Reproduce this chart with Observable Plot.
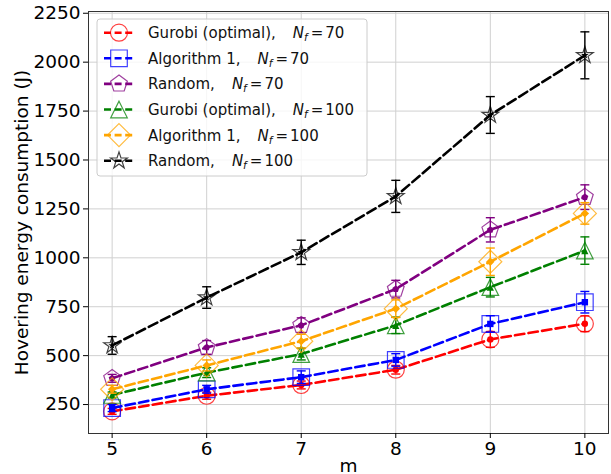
<!DOCTYPE html>
<html><head><meta charset="utf-8">
<script src="https://cdn.jsdelivr.net/npm/d3@7"></script>
<script src="https://cdn.jsdelivr.net/npm/@observablehq/plot@0.6"></script>
<style>
html,body{margin:0;padding:0;background:#fff;}
#wrap{position:relative;width:611px;height:474px;overflow:hidden;background:#fff;}
#legend{position:absolute;left:0;top:0;}
</style></head><body><div id="wrap"></div>
<script>
// ---- data ----
const m = [5, 6, 7, 8, 9, 10];
const gurobi70 = [215, 295, 350, 428, 583, 663];
const gurobi70Err = [15, 18, 20, 22, 40, 40];
const alg70 = [232, 328, 390, 478, 662, 773];
const alg70Err = [18, 20, 32, 32, 42, 55];
const random70 = [384, 542, 655, 840, 1143, 1310];
const random70Err = [20, 35, 38, 45, 62, 63];
const gurobi100 = [299, 413, 508, 655, 850, 1037];
const gurobi100Err = [15, 25, 30, 42, 50, 70];
const alg100 = [328, 450, 574, 740, 980, 1227];
const alg100Err = [20, 28, 35, 45, 70, 55];
const random100 = [552, 797, 1028, 1314, 1730, 2035];
const random100Err = [45, 55, 62, 82, 94, 120];
const yTicks = [250, 500, 750, 1000, 1250, 1500, 1750, 2000, 2250];
const seriesNames = ["Gurobi (optimal),", "Algorithm 1,", "Random,", "Gurobi (optimal),", "Algorithm 1,", "Random,"];
const seriesNf = [70, 70, 70, 100, 100, 100];
const seriesValues = [gurobi70, alg70, random70, gurobi100, alg100, random100];
const seriesErrors = [gurobi70Err, alg70Err, random70Err, gurobi100Err, alg100Err, random100Err];
const xLabel = "m";
const yLabel = "Hovering energy consumption (J)";

// ---- styles ----
const colors = ["red", "blue", "purple", "green", "orange", "black"];
const shapes = ["circle", "square", "pentagon", "triangle", "diamond", "star"];
const bigR = {circle: 8.5, square: 8.3, pentagon: 8.8, triangle: 8.3, diamond: 11.5, star: 8.8};
const smallR = {circle: 3.2, square: 3.2, pentagon: 3.6, triangle: 3.6, diamond: 4.2, star: 4};

function makeSymbol(kind) {
  return {
    draw(ctx, size) {
      const R = Math.sqrt(size / Math.PI);
      if (kind === "circle") { ctx.moveTo(R, 0); ctx.arc(0, 0, R, 0, 2 * Math.PI); }
      else if (kind === "square") { ctx.moveTo(-R, -R); ctx.lineTo(R, -R); ctx.lineTo(R, R); ctx.lineTo(-R, R); ctx.closePath(); }
      else if (kind === "pentagon") {
        for (let k = 0; k < 5; k++) { const a = -Math.PI / 2 + k * 2 * Math.PI / 5; const px = R * Math.cos(a), py = R * Math.sin(a); k ? ctx.lineTo(px, py) : ctx.moveTo(px, py); }
        ctx.closePath();
      }
      else if (kind === "triangle") { ctx.moveTo(0, -R); ctx.lineTo(R, R); ctx.lineTo(-R, R); ctx.closePath(); }
      else if (kind === "diamond") { ctx.moveTo(0, -R); ctx.lineTo(R, 0); ctx.lineTo(0, R); ctx.lineTo(-R, 0); ctx.closePath(); }
      else if (kind === "star") {
        for (let k = 0; k < 10; k++) { const a = -Math.PI / 2 + k * Math.PI / 5; const rr = k % 2 ? R * 0.381966 : R; const px = rr * Math.cos(a), py = rr * Math.sin(a); k ? ctx.lineTo(px, py) : ctx.moveTo(px, py); }
        ctx.closePath();
      }
      else if (kind === "cap") { ctx.moveTo(-R, 0); ctx.lineTo(R, 0); }
    }
  };
}
const capSymbol = makeSymbol("cap");
const DASH = "9.5,4.2";

// ---- table ----
const rows = [];
seriesValues.forEach((vals, s) => vals.forEach((v, i) => rows.push({s, m: m[i], v, lo: v - seriesErrors[s][i], hi: v + seriesErrors[s][i]})));

const marks = [
  Plot.gridX(m, {stroke: "#d0d0d0", strokeOpacity: 1, strokeWidth: 1}),
  Plot.gridY(yTicks, {stroke: "#d0d0d0", strokeOpacity: 1, strokeWidth: 1}),
];
seriesValues.forEach((_, s) => {
  const d = rows.filter(r => r.s === s);
  const c = colors[s], sym = makeSymbol(shapes[s]);
  marks.push(
    Plot.line(d, {x: "m", y: "v", stroke: c, strokeWidth: 2.6, strokeDasharray: DASH}),
    Plot.ruleX(d, {x: "m", y1: "lo", y2: "hi", stroke: c, strokeWidth: 1.4}),
    Plot.dot(d, {x: "m", y: "lo", symbol: capSymbol, r: 4.5, fill: "none", stroke: c, strokeWidth: 1.4}),
    Plot.dot(d, {x: "m", y: "hi", symbol: capSymbol, r: 4.5, fill: "none", stroke: c, strokeWidth: 1.4}),
    Plot.dot(d, {x: "m", y: "v", symbol: sym, r: smallR[shapes[s]], fill: c, stroke: "none"}),
    Plot.dot(d, {x: "m", y: "v", symbol: sym, r: bigR[shapes[s]], fill: "none", stroke: c, strokeWidth: 1.2, strokeOpacity: 0.75})
  );
});
marks.push(
  Plot.frame({stroke: "#333", strokeWidth: 1}),
  Plot.axisX(m, {tickSize: 5, tickPadding: 3, fontSize: 18.5, label: null}),
  Plot.axisY(yTicks, {tickSize: 5, tickPadding: 3, fontSize: 18.5, label: null, tickFormat: d => String(d)}),
  Plot.text([xLabel], {frameAnchor: "bottom", dy: 38, lineAnchor: "bottom", fontSize: 18.5, text: d => d}),
  Plot.text([yLabel], {frameAnchor: "left", dx: -61, rotate: -90, lineAnchor: "bottom", textAnchor: "middle", fontSize: 18.5, text: d => d})
);

const chart = Plot.plot({
  width: 611, height: 474,
  marginLeft: 88, marginRight: 3, marginTop: 11, marginBottom: 41,
  x: {domain: [4.75, 10.25]},
  y: {domain: [102, 2259]},
  style: {fontFamily: "DejaVu Sans", fontSize: "18.5px", color: "#000", background: "white", overflow: "visible"},
  marks
});
const wrap = document.getElementById("wrap");
wrap.appendChild(chart);

// ---- legend ----
const lg = d3.select(wrap).append("svg").attr("id", "legend").attr("width", 611).attr("height", 474)
  .style("font-family", "DejaVu Sans").style("font-size", "15px");
lg.append("rect").attr("x", 97).attr("y", 19).attr("width", 270).attr("height", 157).attr("rx", 3)
  .attr("fill", "white").attr("fill-opacity", 0.8).attr("stroke", "#cccccc").attr("stroke-width", 1);
seriesNames.forEach((name, s) => {
  const cy = 32.7 + s * 25.6;
  const c = colors[s];
  lg.append("line").attr("x1", 103).attr("x2", 135).attr("y1", cy).attr("y2", cy)
    .attr("stroke", c).attr("stroke-width", 2.6).attr("stroke-dasharray", "7,3.6").attr("stroke-dashoffset", -1);
  const rr = bigR[shapes[s]];
  lg.append("path").attr("d", d3.symbol(makeSymbol(shapes[s]), rr * rr * Math.PI)())
    .attr("transform", `translate(119,${cy})`).attr("fill", "none").attr("stroke", c).attr("stroke-width", 1.2).attr("stroke-opacity", 0.75);
  const t = lg.append("text").attr("x", 148).attr("y", cy + 5.4).attr("fill", "#111");
  t.append("tspan").text(name);
  t.append("tspan").attr("dx", 17).attr("font-style", "italic").text("N");
  t.append("tspan").attr("font-style", "italic").attr("font-size", "10.5px").attr("dy", 3).text("f");
  t.append("tspan").attr("dy", -3).attr("dx", 3).text("=");
  t.append("tspan").attr("dx", 2).text(String(seriesNf[s]));
});
</script></body></html>
